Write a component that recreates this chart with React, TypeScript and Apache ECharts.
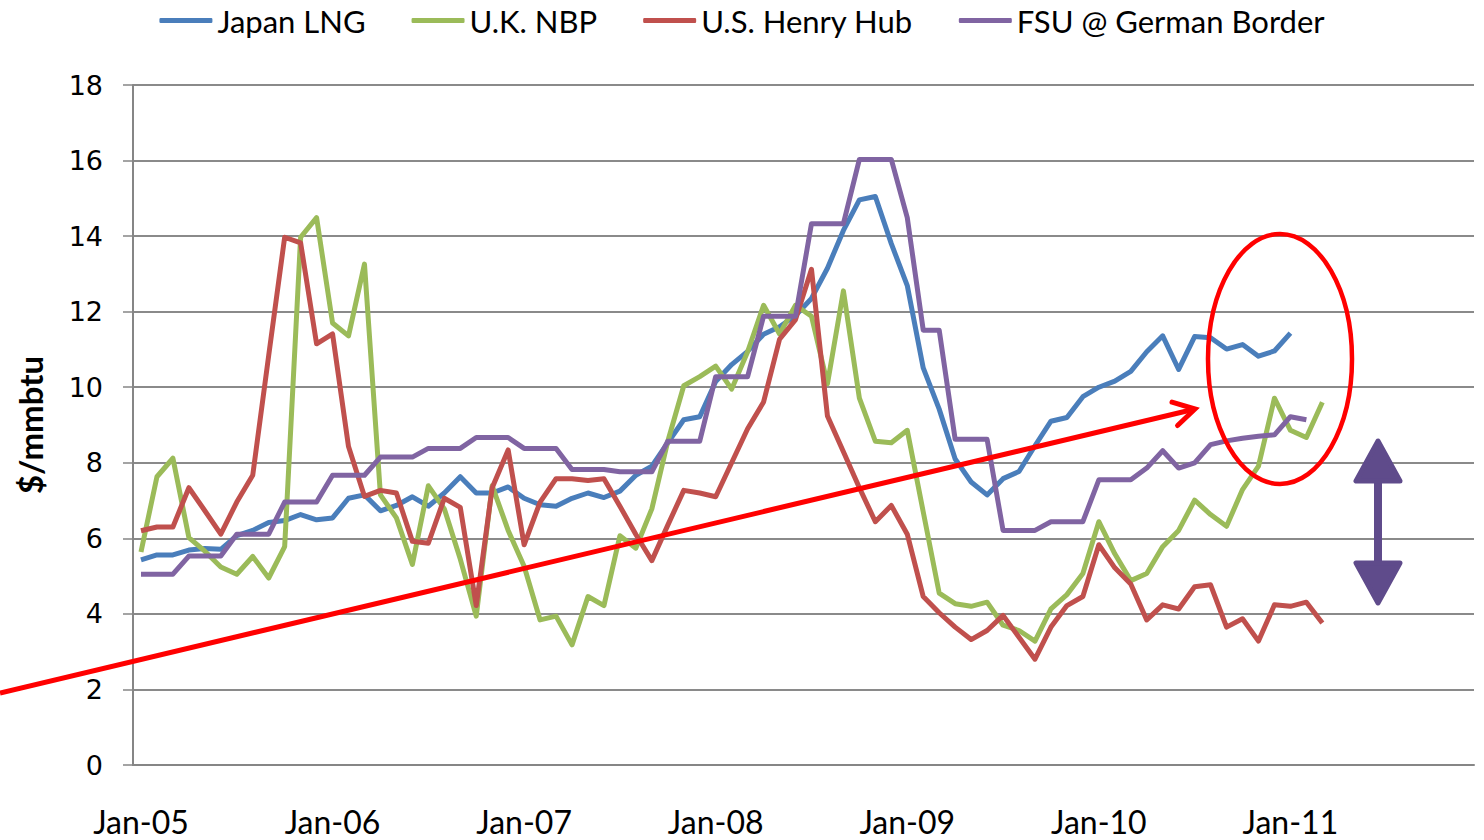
import React, { useEffect, useRef } from 'react';
import * as echarts from 'echarts';

const monthNames = ['Jan', 'Feb', 'Mar', 'Apr', 'May', 'Jun', 'Jul', 'Aug', 'Sep', 'Oct', 'Nov', 'Dec'];
const years = ['05', '06', '07', '08', '09', '10', '11'];
const categories = years.flatMap((y) => monthNames.map((m) => `${m}-${y}`));

const seriesNames = ['Japan LNG', 'U.K. NBP', 'U.S. Henry Hub', 'FSU @ German Border'];
const seriesColors = ['#4a7ebb', '#9bbb59', '#c0504d', '#8064a2'];

const japanLNG = [
  5.43, 5.56, 5.56, 5.69, 5.73, 5.71, 6.07, 6.21, 6.42, 6.47,
  6.63, 6.49, 6.54, 7.06, 7.15, 6.73, 6.87, 7.1, 6.85, 7.2,
  7.63, 7.2, 7.2, 7.36, 7.06, 6.89, 6.85, 7.06, 7.2, 7.08,
  7.25, 7.67, 7.91, 8.53, 9.14, 9.22, 10.15, 10.6, 10.95, 11.4,
  11.6, 11.9, 12.35, 13.15, 14.15, 14.96, 15.05, 13.8, 12.69, 10.51,
  9.42, 8.1, 7.49, 7.15, 7.58, 7.77, 8.45, 9.1, 9.2, 9.75,
  10.0, 10.16, 10.42, 10.94, 11.36, 10.47, 11.34, 11.31, 11.01, 11.13,
  10.82, 10.96, 11.43,
];

const ukNBP = [
  5.64, 7.63, 8.12, 6.02, 5.66, 5.24, 5.05, 5.52, 4.95, 5.78,
  13.97, 14.49, 11.7, 11.36, 13.26, 7.15, 6.54, 5.31, 7.39, 6.78,
  5.45, 3.94, 7.39, 6.21, 5.26, 3.84, 3.94, 3.18, 4.46, 4.22,
  6.07, 5.74, 6.78, 8.57, 10.04, 10.28, 10.56, 9.95, 10.94, 12.17,
  11.41, 12.17, 11.88, 10.09, 12.55, 9.71, 8.57, 8.53, 8.86, 6.7,
  4.55, 4.27, 4.2, 4.31, 3.7, 3.56, 3.28, 4.13, 4.51, 5.07,
  6.44, 5.59, 4.88, 5.07, 5.78, 6.21, 7.01, 6.63, 6.32, 7.29,
  7.91, 9.71, 8.86, 8.67, 9.6,
];

const usHenryHub = [
  6.2, 6.3, 6.3, 7.34, 6.73, 6.11, 6.96, 7.67, 10.84, 13.97,
  13.82, 11.15, 11.41, 8.43, 7.11, 7.27, 7.2, 5.92, 5.87, 7.06,
  6.82, 4.22, 7.34, 8.34, 5.83, 6.96, 7.58, 7.58, 7.53, 7.58,
  6.85, 6.1, 5.41, 6.35, 7.27, 7.2, 7.1, 8.0, 8.9, 9.61,
  11.27, 11.79, 13.12, 9.24, 8.29, 7.34, 6.44, 6.87, 6.11, 4.46,
  4.03, 3.65, 3.32, 3.56, 3.96, 3.38, 2.8, 3.65, 4.22, 4.46,
  5.83, 5.22, 4.79, 3.84, 4.24, 4.13, 4.72, 4.77, 3.65, 3.87,
  3.28, 4.24, 4.2, 4.31, 3.76,
];

const fsuGermanBorder = [
  5.05, 5.05, 5.05, 5.53, 5.53, 5.53, 6.11, 6.11, 6.11, 6.96,
  6.96, 6.96, 7.67, 7.67, 7.67, 8.15, 8.15, 8.15, 8.38, 8.38,
  8.38, 8.67, 8.67, 8.67, 8.38, 8.38, 8.38, 7.82, 7.82, 7.82,
  7.76, 7.76, 7.76, 8.57, 8.57, 8.57, 10.28, 10.28, 10.28, 11.88,
  11.88, 11.88, 14.33, 14.33, 14.33, 16.03, 16.03, 16.03, 14.49, 11.51,
  11.51, 8.62, 8.62, 8.62, 6.21, 6.21, 6.21, 6.44, 6.44, 6.44,
  7.55, 7.55, 7.55, 7.86, 8.32, 7.86, 8.0, 8.48, 8.58, 8.65,
  8.7, 8.74, 9.22, 9.14,
];

const seriesData = [japanLNG, ukNBP, usHenryHub, fsuGermanBorder];

const yMin = 0;
const yMax = 18;
const yInterval = 2;

export default function App() {
  const ref = useRef<HTMLDivElement>(null);

  useEffect(() => {
    if (!ref.current) return;
    const chart = echarts.init(ref.current, undefined, { renderer: 'svg' });
    const axisColor = '#868686';

    // red trend arrow geometry
    const arrowStart = [0, 693];
    const arrowTip = [1195, 409];
    const dx = arrowTip[0] - arrowStart[0];
    const dy = arrowTip[1] - arrowStart[1];
    const len = Math.sqrt(dx * dx + dy * dy);
    const ux = -dx / len;
    const uy = -dy / len;
    const wing = 24;
    const ang = Math.PI / 6;
    const w1 = [
      arrowTip[0] + wing * (ux * Math.cos(ang) - uy * Math.sin(ang)),
      arrowTip[1] + wing * (ux * Math.sin(ang) + uy * Math.cos(ang)),
    ];
    const w2 = [
      arrowTip[0] + wing * (ux * Math.cos(-ang) - uy * Math.sin(-ang)),
      arrowTip[1] + wing * (ux * Math.sin(-ang) + uy * Math.cos(-ang)),
    ];

    const purple = '#5f4b8b';

    chart.setOption({
      animation: false,
      backgroundColor: '#ffffff',
      legend: {
        top: 0,
        left: 'center',
        itemWidth: 53,
        itemHeight: 5,
        itemGap: 46,
        icon: 'roundRect',
        textStyle: { fontFamily: 'Lato', fontSize: 31, color: '#000' },
        data: seriesNames,
      },
      grid: { left: 133, right: 10, top: 85, bottom: 75, containLabel: false },
      xAxis: {
        type: 'category',
        data: categories,
        boundaryGap: true,
        axisLine: { lineStyle: { color: axisColor, width: 2 } },
        axisTick: { interval: 11, length: 10, lineStyle: { color: axisColor, width: 1.5 } },
        axisLabel: { interval: 11, margin: 40, fontFamily: 'Lato', fontSize: 32, color: '#000' },
        splitLine: { show: false },
      },
      yAxis: {
        type: 'value',
        min: yMin,
        max: yMax,
        interval: yInterval,
        name: '$/mmbtu',
        nameLocation: 'middle',
        nameGap: 87,
        nameTextStyle: { fontFamily: 'Lato', fontWeight: 'bold', fontSize: 33, color: '#000' },
        axisLine: { show: true, lineStyle: { color: axisColor, width: 2 } },
        axisTick: { show: true, length: 10, lineStyle: { color: axisColor, width: 1.5 } },
        axisLabel: { margin: 30, fontFamily: 'DejaVu Sans', fontSize: 27, color: '#000' },
        splitLine: { lineStyle: { color: '#8a8a8a', width: 2 } },
      },
      series: seriesNames.map((name, i) => ({
        name,
        type: 'line',
        data: seriesData[i],
        showSymbol: false,
        symbol: 'none',
        color: seriesColors[i],
        lineStyle: { width: 5, color: seriesColors[i], join: 'round' },
        connectNulls: false,
      })),
      graphic: [
        {
          type: 'line',
          shape: { x1: arrowStart[0], y1: arrowStart[1], x2: arrowTip[0] - 2, y2: arrowTip[1] + 0.5 },
          style: { stroke: '#ff0000', lineWidth: 5 },
          z: 100,
        },
        {
          type: 'polyline',
          shape: { points: [w1, arrowTip, w2] },
          style: { stroke: '#ff0000', lineWidth: 5, fill: 'none', lineJoin: 'miter', lineCap: 'round' },
          z: 100,
        },
        {
          type: 'ellipse',
          shape: { cx: 1280, cy: 359, rx: 72, ry: 125 },
          style: { stroke: '#ff0000', lineWidth: 4.5, fill: 'none' },
          z: 100,
        },
        {
          type: 'line',
          shape: { x1: 1378, y1: 478, x2: 1378, y2: 568 },
          style: { stroke: purple, lineWidth: 8 },
          z: 100,
        },
        {
          type: 'polygon',
          shape: { points: [[1378, 441], [1356, 481], [1400, 481]] },
          style: { fill: purple, stroke: purple, lineWidth: 5, lineJoin: 'round' },
          z: 100,
        },
        {
          type: 'polygon',
          shape: { points: [[1356, 563], [1400, 563], [1378, 603]] },
          style: { fill: purple, stroke: purple, lineWidth: 5, lineJoin: 'round' },
          z: 100,
        },
      ],
    });

    return () => {
      chart.dispose();
    };
  }, []);

  return (
    <div
      ref={ref}
      style={{ position: 'fixed', left: 0, top: 0, width: 1484, height: 840, background: '#fff' }}
    />
  );
}
